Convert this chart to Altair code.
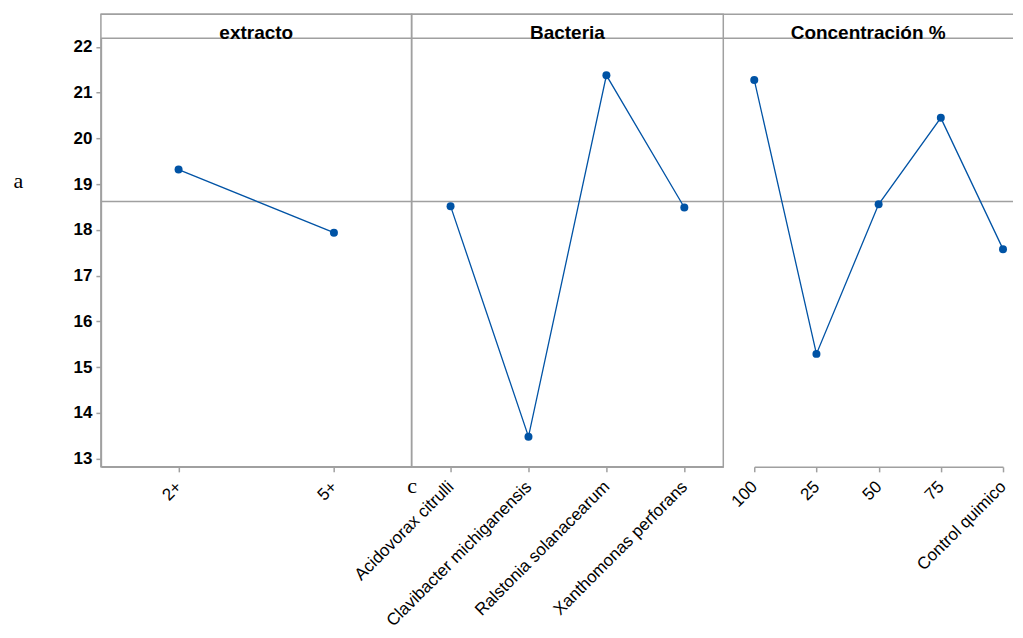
import altair as alt
import pandas as pd

# ---- data ----
factor_names = ["extracto", "Bacteria", "Concentración %"]

extracto_levels = ["2+", "5+"]
extracto_means = [19.32, 17.94]

bacteria_levels = ["Acidovorax citrulli", "Clavibacter michiganensis",
                   "Ralstonia solanacearum", "Xanthomonas perforans"]
bacteria_means = [18.52, 13.48, 21.38, 18.49]

conc_levels = ["100", "25", "50", "75", "Control quimico"]
conc_means = [21.28, 15.29, 18.56, 20.45, 17.58]

grand_mean = 18.62
y_ticks = [13, 14, 15, 16, 17, 18, 19, 20, 21, 22]
y_domain = [12.82, 22.19]

BLUE = "#0053A5"
GRAY = "#A0A0A0"
SANS = "Liberation Sans"
SERIF = "Liberation Serif"

PANEL_H = 453     # whole panel incl. strip
HEADER_H = 24     # strip height


def make_panel(name, levels, means, width, first, x_range=None, open_right=False):
    df = pd.DataFrame({"level": levels, "mean": means})
    mean_df = pd.DataFrame({"mean": [grand_mean]})
    head_df = pd.DataFrame({"name": [name]})

    x_axis_kwargs = dict(
        title=None, labelAngle=-45, labelAlign="right", labelBaseline="middle",
        labelFont=SANS, labelFontSize=17, labelColor="black", labelPadding=12,
        labelLimit=0, tickColor=GRAY, domainColor=GRAY, tickSize=5,
        tickWidth=1.5, domainWidth=1.5,
    )
    if first:
        x_axis_kwargs.update(
            title="c", titleFont=SERIF, titleFontSize=22, titleFontWeight="normal",
            titleColor="black", titleX=width, titleY=26, titleAlign="center",
            titleBaseline="alphabetic", titleAngle=0,
        )
    if x_range is None:
        xscale = alt.Scale(padding=0.5)
    else:
        xscale = alt.Scale(padding=0, range=x_range)
    x = alt.X("level:N", sort=levels, scale=xscale, axis=alt.Axis(**x_axis_kwargs))

    if first:
        y_axis = alt.Axis(
            values=y_ticks, grid=False, title="a", titleAngle=0, titleFont=SERIF,
            titleFontSize=22, titleFontWeight="normal", titleColor="black",
            titleX=-88, titleY=173, titleAlign="left", titleBaseline="alphabetic",
            labelFont=SANS, labelFontSize=17, labelFontWeight="bold",
            labelColor="black", labelPadding=4, tickColor=GRAY, domainColor=GRAY,
            tickSize=5, tickWidth=1.5, domainWidth=1.5,
        )
    else:
        y_axis = None
    yscale = alt.Scale(domain=y_domain, zero=False, nice=False,
                       range=[PANEL_H, HEADER_H])
    y = alt.Y("mean:Q", scale=yscale, axis=y_axis)

    rule = alt.Chart(mean_df).mark_rule(color=GRAY, strokeWidth=1.5).encode(y=y)
    line = alt.Chart(df).mark_line(color=BLUE, strokeWidth=1.3).encode(x=x, y=y)
    pts = alt.Chart(df).mark_point(color=BLUE, filled=True, size=64,
                                   opacity=1).encode(x=x, y=y)
    strip_line = alt.Chart(head_df).mark_rule(color=GRAY, strokeWidth=1.5).encode(
        y=alt.value(HEADER_H)
    )
    top_line = alt.Chart(head_df).mark_rule(color=GRAY, strokeWidth=1.5).encode(
        y=alt.value(0)
    )
    header = alt.Chart(head_df).mark_text(
        font=SANS, fontSize=19, fontWeight="bold", color="black",
        baseline="alphabetic", dy=1,
    ).encode(text="name:N", y=alt.value(HEADER_H))

    layers = [rule, line, pts, strip_line, top_line, header]
    if open_right:
        # frame continues past the right edge in the reference: no right border
        view = alt.ViewBackground(stroke="transparent", fill="transparent")
    else:
        view = alt.ViewBackground(stroke=GRAY, strokeWidth=1.5, fill="transparent")
    return alt.layer(*layers).properties(width=width, height=PANEL_H, view=view)


p1 = make_panel(factor_names[0], extracto_levels, extracto_means, 311, True)
p2 = make_panel(factor_names[1], bacteria_levels, bacteria_means, 312, False)
p3 = make_panel(factor_names[2], conc_levels, conc_means, 290, False,
                x_range=[31, 280], open_right=True)

chart = alt.hconcat(p1, p2, p3, spacing=0, bounds="flush").resolve_scale(
    x="independent", y="independent"
).properties(
    padding={"left": 4, "top": 4, "right": 0, "bottom": 0}
).configure_view(
    stroke=GRAY, strokeWidth=1.5, fill="transparent"
).configure(background="white")

chart.save("out.html", embed_options={"renderer": "svg", "actions": False})
